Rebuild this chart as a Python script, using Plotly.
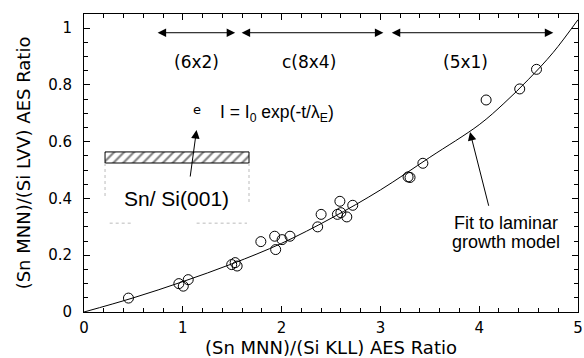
import plotly.graph_objects as go

# Data points
x_data = [0.45, 0.96, 1.005, 1.055, 1.495, 1.53, 1.55, 1.79, 1.93, 1.94, 2.005, 2.085,
          2.365, 2.40, 2.565, 2.59, 2.60, 2.66, 2.72, 3.28, 3.30, 3.43, 4.07, 4.41, 4.58]
y_data = [0.049, 0.100, 0.091, 0.114, 0.167, 0.174, 0.162, 0.248, 0.267, 0.220, 0.255, 0.267,
          0.300, 0.344, 0.344, 0.390, 0.350, 0.335, 0.376, 0.476, 0.474, 0.524, 0.747, 0.786, 0.855]

# Fit curve (laminar growth model)
fit_x = [0, 0.5, 1.0, 1.5, 2.0, 2.5, 3.0, 3.5, 4.0, 4.25, 4.5, 4.75, 5.0]
fit_y = [0, 0.05, 0.107, 0.17, 0.242, 0.33, 0.43, 0.545, 0.66, 0.735, 0.82, 0.915, 1.03]

x_ticks = [0, 1, 2, 3, 4, 5]
y_ticks = [0, 0.2, 0.4, 0.6, 0.8, 1.0]
y_ticklabels = ["0", "0.2", "0.4", "0.6", "0.8", "1"]

phase_labels = ["(6x2)", "c(8x4)", "(5x1)"]
phase_ranges = [(0.73, 1.53), (1.58, 3.03), (3.10, 4.75)]
phase_label_x = [1.14, 2.28, 3.86]

FONT = "DejaVu Sans, Liberation Sans, Arial, sans-serif"
FONT2 = "Liberation Sans, Arial, sans-serif"

fig = go.Figure()

# schematic hatched bar
bar_x = [0.213, 1.67, 1.67, 0.213, 0.213]
bar_y = [0.525, 0.525, 0.564, 0.564, 0.525]
fig.add_trace(go.Scatter(x=bar_x, y=bar_y, mode="lines", fill="toself",
                         fillcolor="white",
                         fillpattern=dict(shape="/", size=7, solidity=0.3, fgcolor="black", bgcolor="white"),
                         line=dict(color="black", width=1), hoverinfo="skip", showlegend=False))

fig.add_trace(go.Scatter(x=fit_x, y=fit_y, mode="lines", line=dict(color="black", width=1, shape="spline"),
                         showlegend=False))
fig.add_trace(go.Scatter(x=x_data, y=y_data, mode="markers",
                         marker=dict(symbol="circle-open", size=10, color="black", line=dict(width=1)),
                         showlegend=False))

# faint dotted lines of schematic
for (x0, y0, x1, y1) in [(0.213, 0.525, 0.213, 0.40), (1.67, 0.525, 1.67, 0.38),
                         (0.26, 0.313, 0.50, 0.313), (1.14, 0.313, 1.65, 0.313)]:
    fig.add_shape(type="line", x0=x0, y0=y0, x1=x1, y1=y1, xref="x", yref="y",
                  line=dict(color="#bbbbbb", width=1, dash="dot"))

# phase arrows
for (a, b), lab, lx in zip(phase_ranges, phase_labels, phase_label_x):
    fig.add_annotation(x=b, y=0.984, ax=a, ay=0.984, xref="x", yref="y", axref="x", ayref="y",
                       text="", showarrow=True, arrowhead=2, arrowside="end+start",
                       arrowsize=1.7, arrowwidth=1, arrowcolor="black")
    fig.add_annotation(x=lx, y=0.881, text=lab, showarrow=False,
                       font=dict(family=FONT, size=17, color="black"))

# electron arrow
fig.add_annotation(x=1.139, y=0.641, ax=1.073, ay=0.472, xref="x", yref="y", axref="x", ayref="y",
                   text="", showarrow=True, arrowhead=2, arrowsize=1.7, arrowwidth=1, arrowcolor="black")
fig.add_annotation(x=1.14, y=0.715, text="e", showarrow=False,
                   font=dict(family=FONT, size=13, color="black"))
fig.add_annotation(x=1.356, y=0.70, xanchor="left", showarrow=False,
                   text="I = I<sub>0</sub> exp(-t/λ<sub>E</sub>)",
                   font=dict(family=FONT2, size=17.5, color="black"))
fig.add_annotation(x=0.94, y=0.40, text="Sn/ Si(001)", showarrow=False,
                   font=dict(family=FONT2, size=21, color="black"))

# fit label
fig.add_annotation(x=3.907, y=0.634, ax=4.10, ay=0.369, xref="x", yref="y", axref="x", ayref="y",
                   text="", showarrow=True, arrowhead=2, arrowsize=1.7, arrowwidth=1, arrowcolor="black")
fig.add_annotation(x=4.27, y=0.313, text="Fit to laminar", showarrow=False,
                   font=dict(family=FONT2, size=18, color="black"))
fig.add_annotation(x=4.27, y=0.246, text="growth model", showarrow=False,
                   font=dict(family=FONT2, size=18, color="black"))

axis_common = dict(showline=True, linecolor="black", linewidth=1, mirror="allticks",
                   ticks="inside", ticklen=6, tickcolor="black", showgrid=False, zeroline=False,
                   automargin=False,
                   tickfont=dict(family=FONT, size=15, color="black"))

fig.update_xaxes(range=[0, 5], tickvals=x_ticks, ticktext=[str(v) for v in x_ticks],
                 minor=dict(ticks="inside", dtick=0.2, ticklen=4, tickcolor="black", showgrid=False),
                 title=dict(text="(Sn MNN)/(Si KLL) AES Ratio", font=dict(family=FONT, size=18, color="black"),
                            standoff=2),
                 ticklabelstandoff=2,
                 **axis_common)
fig.update_yaxes(range=[0, 1.05], tickvals=y_ticks, ticktext=y_ticklabels,
                 minor=dict(ticks="inside", dtick=0.05, ticklen=4, tickcolor="black", showgrid=False),
                 title=dict(text="(Sn MNN)/(Si LVV) AES Ratio", font=dict(family=FONT, size=18, color="black"),
                            standoff=12),
                 ticklabelstandoff=8,
                 **axis_common)

fig.update_layout(width=584, height=358, margin=dict(l=84, r=6, t=14, b=46),
                  plot_bgcolor="white", paper_bgcolor="white", showlegend=False)

fig.write_html("out.html")
